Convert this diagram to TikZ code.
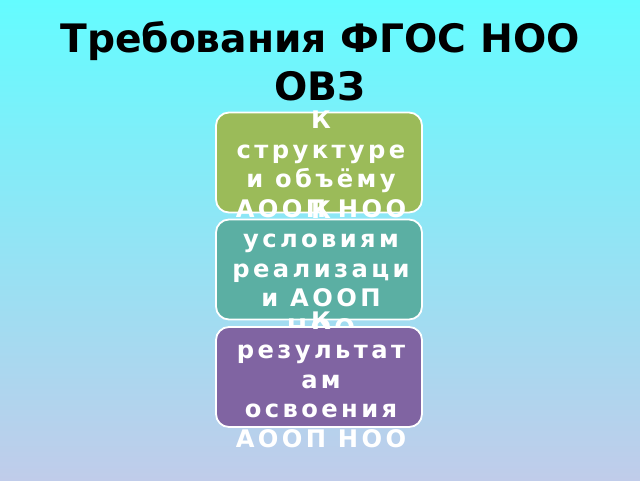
\documentclass[tikz,border=0pt]{standalone}
\usepackage{fontspec}
\setmainfont{DejaVu Sans}
\newfontfamily\boxfont[LetterSpace=14]{DejaVu Sans}
\definecolor{bgtop}{RGB}{100,252,255}
\definecolor{bgbot}{RGB}{192,204,234}
\definecolor{boxgreen}{RGB}{155,187,89}
\definecolor{boxteal}{RGB}{91,175,163}
\definecolor{boxpurple}{RGB}{128,100,162}
\begin{document}
\begin{tikzpicture}[x=1pt,y=-1pt,
  panel/.style={draw=white, line width=1.8pt, rounded corners=13pt, minimum width=206pt, minimum height=100pt, inner sep=0pt},
  paneltext/.style={text=white, font=\boxfont\bfseries\fontsize{24.2}{29.5}\selectfont, align=center, anchor=base, inner sep=0pt}]
\shade[top color=bgtop, bottom color=bgbot] (0,0) rectangle (640,480);
\useasboundingbox (0,0) rectangle (640,480);
\node[font=\bfseries\fontsize{39.2}{48}\selectfont, align=center, anchor=base, inner sep=0pt] (title) at (320,100) {Требования ФГОС НОО\\ОВЗ};
\node[panel, fill=boxgreen] (p1) at (319,162.5) {};
\node[paneltext] (t1) at (321,217) {К\\структуре\\и объёму\\АООП НОО};
\node[panel, fill=boxteal] (p2) at (319,269.5) {};
\node[paneltext] (t2) at (321,336) {К\\условиям\\реализаци\\и АООП\\НОО};
\node[panel, fill=boxpurple] (p3) at (319,377) {};
\node[paneltext] (t3) at (321,447) {К\\результат\\ам\\освоения\\АООП НОО};
\end{tikzpicture}
\end{document}
